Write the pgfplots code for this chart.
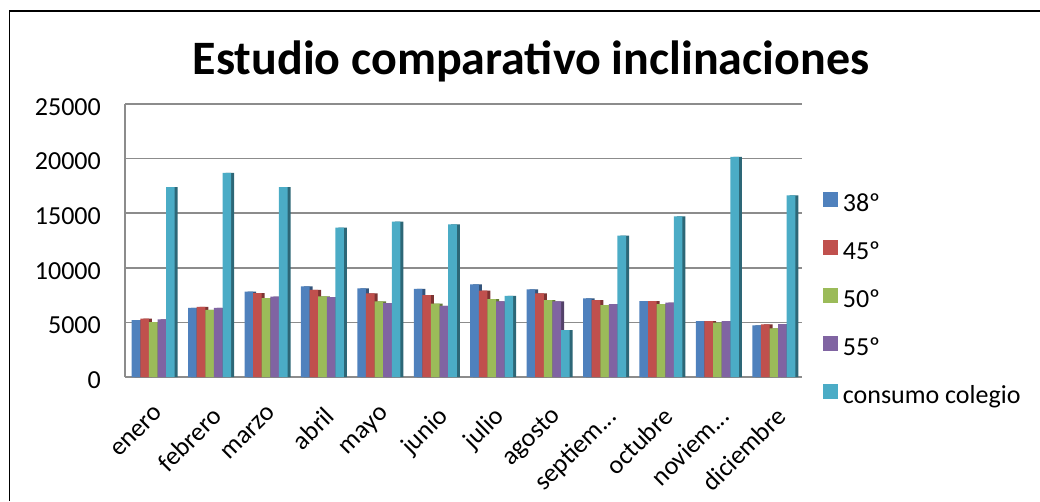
\documentclass[border=0pt]{standalone}
\usepackage{fontspec}
\setmainfont{Carlito}
\usepackage{pgfplots}
\pgfplotsset{compat=1.18}
\usepackage{pgfplotstable}

% Office-style series colours and their darker side faces
\definecolor{cA}{HTML}{4F81BD}
\definecolor{cB}{HTML}{C0504D}
\definecolor{cC}{HTML}{9BBB59}
\definecolor{cD}{HTML}{8064A2}
\definecolor{cE}{HTML}{4BACC6}
\colorlet{sA}{cA!65!black}
\colorlet{sB}{cB!65!black}
\colorlet{sC}{cC!65!black}
\colorlet{sD}{cD!65!black}
\colorlet{sE}{cE!60!black}
\definecolor{gridgray}{RGB}{140,140,140}

% monthly production per panel inclination and school consumption
\pgfplotstableread{
mes  g38   g45   g50   g55   cons
0    5210  5340  5030  5280  17380
1    6330  6420  6140  6330  18700
2    7810  7690  7220  7350  17380
3    8300  7990  7380  7320  13680
4    8120  7660  6920  6760  14230
5    8060  7500  6730  6510  13980
6    8490  7900  7130  6920  7440
7    8030  7660  7040  6920  4290
8    7190  7040  6580  6670  12940
9    6950  6950  6670  6820  14700
10   5120  5120  4970  5120  20160
11   4720  4820  4450  4840  16640
}\datos

\newcommand{\lblfont}{\fontsize{26}{30}\selectfont}
% truncated month names (kept in macros so the list parser leaves the dots alone)
\newcommand{\mSep}{septiem...}
\newcommand{\mNov}{noviem...}
% square legend swatch with a small gap before the text
\newcommand{\swatch}[1]{\addlegendimage{legend image code/.code={\fill[#1] (0pt,-1pt) rectangle (14pt,13pt); \path (19pt,0pt);}}}

\begin{document}
\begin{tikzpicture}[x=1pt,y=1pt]
\useasboundingbox (0,0) rectangle (1040,501);

\begin{axis}[
  at={(125pt,124pt)}, anchor=south west,
  scale only axis, width=677pt, height=273pt,
  xmin=-0.5, xmax=11.5, ymin=0, ymax=25000,
  xtick={0,1,2,3,4,5,6,7,8,9,10,11},
  xticklabels={enero,febrero,marzo,abril,mayo,junio,julio,agosto,\mSep,octubre,\mNov,diciembre},
  ytick={0,5000,10000,15000,20000,25000},
  yticklabels={0,5000,10000,15000,20000,25000},
  scaled y ticks=false,
  ymajorgrids,
  grid style={gridgray, line width=1.7pt},
  axis x line*=bottom, axis y line*=left,
  axis line style={gridgray, line width=1.7pt, -},
  major tick length=0pt,
  tick label style={font=\lblfont},
  xticklabel style={anchor=north east, inner sep=0pt, xshift=1pt, yshift=-28pt, rotate=45},
  yticklabel style={anchor=east, inner sep=0pt, xshift=-24pt, yshift=-3pt},
  clip=false,
  legend style={at={(1.027,0.28)}, anchor=west, draw=none, fill=none,
    font=\lblfont, row sep=23.3pt,
    nodes={inner sep=0pt, text height=18pt, text depth=5pt}},
  legend cell align=left,
]

% side faces first, each front face covers the previous side face
\addplot[ybar, bar width=8.6pt, bar shift=-14.2pt, fill=sA, draw=none, forget plot] table[x=mes, y=g38] {\datos};
\addplot[ybar, bar width=8.6pt, bar shift=-17.2pt, fill=cA, draw=none, forget plot] table[x=mes, y=g38] {\datos};
\addplot[ybar, bar width=8.6pt, bar shift=-5.6pt,  fill=sB, draw=none, forget plot] table[x=mes, y=g45] {\datos};
\addplot[ybar, bar width=8.6pt, bar shift=-8.6pt,  fill=cB, draw=none, forget plot] table[x=mes, y=g45] {\datos};
\addplot[ybar, bar width=8.6pt, bar shift=3pt,     fill=sC, draw=none, forget plot] table[x=mes, y=g50] {\datos};
\addplot[ybar, bar width=8.6pt, bar shift=0pt,     fill=cC, draw=none, forget plot] table[x=mes, y=g50] {\datos};
\addplot[ybar, bar width=8.6pt, bar shift=11.6pt,  fill=sD, draw=none, forget plot] table[x=mes, y=g55] {\datos};
\addplot[ybar, bar width=8.6pt, bar shift=8.6pt,   fill=cD, draw=none, forget plot] table[x=mes, y=g55] {\datos};
\addplot[ybar, bar width=8.6pt, bar shift=20.2pt,  fill=sE, draw=none, forget plot] table[x=mes, y=cons] {\datos};
\addplot[ybar, bar width=8.6pt, bar shift=17.2pt,  fill=cE, draw=none, forget plot] table[x=mes, y=cons] {\datos};

\swatch{cA}\addlegendentry{38º}
\swatch{cB}\addlegendentry{45º}
\swatch{cC}\addlegendentry{50º}
\swatch{cD}\addlegendentry{55º}
\swatch{cE}\addlegendentry{consumo colegio}
\end{axis}

\node[font=\fontsize{48}{54}\selectfont\bfseries, anchor=base] at (531,426) {Estudio comparativo inclinaciones};

% chart frame
\draw[black, line width=1.4pt] (9.5,0) -- (9.5,490) -- (1040,490);
\end{tikzpicture}
\end{document}
